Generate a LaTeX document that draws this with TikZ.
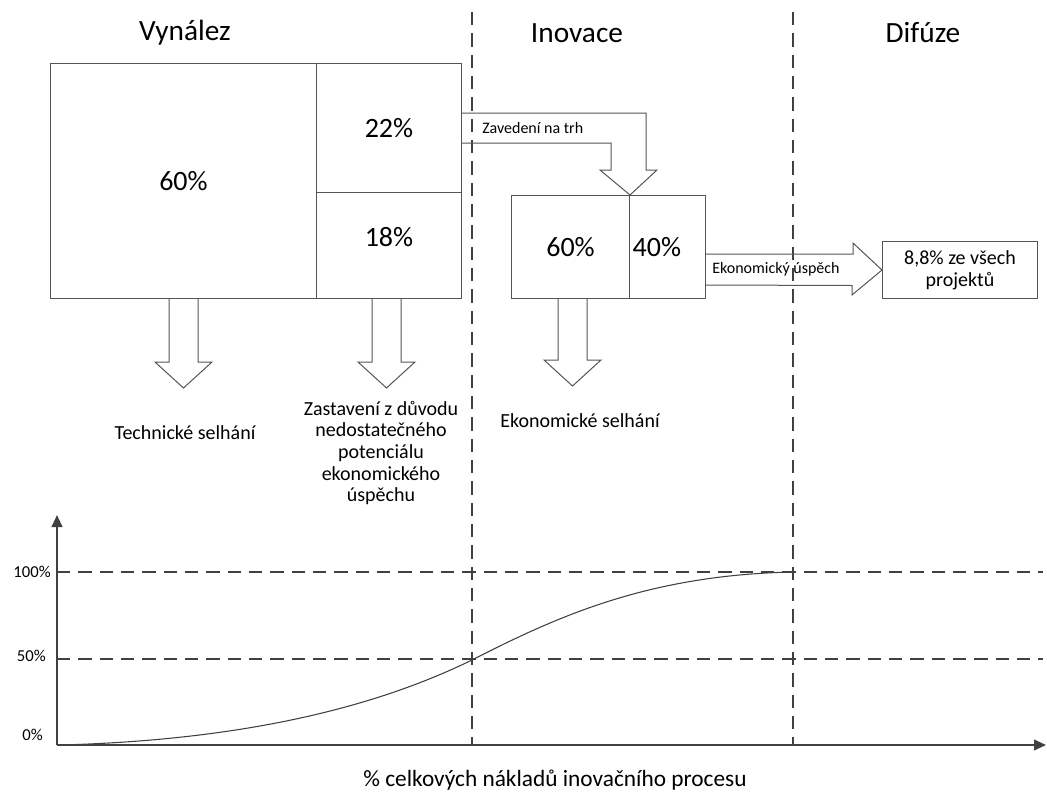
\documentclass[tikz,border=0pt]{standalone}
\usepackage{fontspec}
\setmainfont{Carlito}
\usetikzlibrary{positioning,calc,arrows.meta}
\definecolor{linegrey}{HTML}{555555}
\definecolor{axisgrey}{HTML}{404040}

\tikzset{
  pct/.style={font=\fontsize{21}{25}\selectfont},
  cell/.style 2 args={draw=linegrey, line width=0.75pt, inner sep=0pt, anchor=north west,
    minimum width=#1*0.75pt, minimum height=#2*0.75pt, pct},
  blockarrow/.style={draw=linegrey, line width=0.75pt, line join=miter},
  phase/.style={font=\fontsize{22}{26}\selectfont},
  note/.style={font=\fontsize{15}{16.3}\selectfont, align=center},
  small/.style={font=\fontsize{12}{14}\selectfont, anchor=west, inner sep=0pt},
  divider/.style={draw=axisgrey, line width=1.4pt, dash pattern=on 10pt off 6pt},
  axis/.style={draw=axisgrey, line width=1.5pt, -{Triangle[length=9pt,width=8pt]}},
  ticklab/.style={font=\fontsize{12.5}{14}\selectfont, anchor=east, inner sep=0pt}
}

\begin{document}
\begin{tikzpicture}[x=0.75pt,y=-0.75pt]
\useasboundingbox (0,0) rectangle (1047,793);

% phases
\node[phase] (vynalez) at (185,33) {Vynález};
\node[phase] (inovace) at (577,33) {Inovace};
\node[phase] (difuze) at (923,33) {Difúze};

\draw[divider] (472,12) -- (472,745);
\draw[divider] (793,12) -- (793,745);

% boxes
\node[cell={266}{235}] (inv60) at (50,63) {60\%};
\node[cell={145}{129}] (inv22) at (316,63) {22\%};
\node[cell={145}{106}, label={[pct, yshift=6pt]center:18\%}] (inv18) at (316,192) {};
\node[cell={118}{103}] (ino60) at (511,195) {60\%};
\node[cell={76}{103}, label={[pct, xshift=-8pt]center:40\%}] (ino40) at (629,195) {};
\node[cell={155}{57}, font=\fontsize{15}{16.5}\selectfont, align=center] (dif) at (882,241) {8,8\% ze všech\\projektů};

% block arrows
\draw[blockarrow] ($(inv60.south)+(-14.5,0)$) -- ++(0,63) -- ++(-14,0) -- ++(28.5,26)
  -- ++(28.5,-26) -- ++(-14,0) -- ++(0,-63);
\draw[blockarrow] ($(inv18.south)+(-17,0)$) -- ++(0,63) -- ++(-14,0) -- ++(28.5,26)
  -- ++(28.5,-26) -- ++(-14,0) -- ++(0,-63);
\draw[blockarrow] ($(ino60.south)+(-12.5,0)$) -- ++(0,61) -- ++(-14,0) -- ++(28.5,26)
  -- ++(28.5,-26) -- ++(-14,0) -- ++(0,-61);
\draw[blockarrow] ($(inv22.north east)+(0,50)$) -- ++(184,0) -- ++(0,57) -- ++(11,0)
  -- (ino60.north east) -- ++(-30,-25) -- ++(11,0) -- ++(0,-27) -- ($(inv22.north east)+(0,80)$);
\draw[blockarrow] ($(ino40.north east)+(0,59)$) -- ++(147,0) -- ++(0,-11) -- (dif.west)
  -- ++(-30,25) -- ++(0,-9.5) -- ($(ino40.north east)+(0,90)$);

\node[small] (trh) at (482,128) {Zavedení na trh};
\node[small] (uspech) at (712,269) {Ekonomický úspěch};

% failures
\node[note] (techsel) at (185,433) {Technické selhání};
\node[note] (zastav) at (381,453) {Zastavení z důvodu\\nedostatečného\\potenciálu\\ekonomického\\úspěchu};
\node[note] (ekosel) at (580,421) {Ekonomické selhání};

% graph
\coordinate (o) at (57,745);
\draw[divider] (o |- 0,572) -- (1043,572);
\draw[divider] (o |- 0,659) -- (1043,659);
\draw[axis] (o) -- (57,515);
\draw[axis] (o) -- (1046,745);
\node[ticklab] (p100) at (51,572) {100\%};
\node[ticklab] (p50) at (46,656) {50\%};
\node[ticklab] (p0) at (43,735) {0\%};
\draw[axisgrey, line width=0.8pt] (60,745) .. controls (250,740) and (380,705) .. (472,660)
  .. controls (560,615) and (650,575) .. (793,572);
\node[font=\fontsize{17.5}{20}\selectfont] (naklady) at (555,780) {\% celkových nákladů inovačního procesu};

\end{tikzpicture}
\end{document}
